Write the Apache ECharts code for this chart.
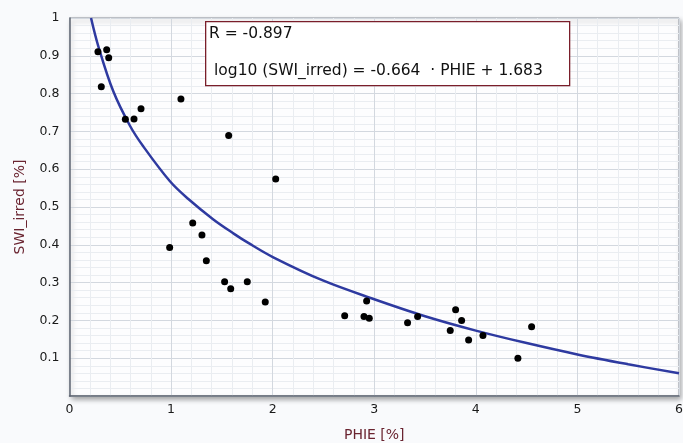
<!DOCTYPE html>
<html>
<head>
<meta charset="utf-8">
<script src="https://cdn.jsdelivr.net/npm/echarts@6/dist/echarts.min.js"></script>
<style>
html,body{margin:0;padding:0;background:#f9fafc;}
#c{width:683px;height:443px;}
</style>
</head>
<body>
<div id="c"></div>
<script>
// measured points
var phie = [0.28,0.366,0.386,0.313,0.55,0.635,0.704,1.097,1.567,2.03,0.986,1.213,1.304,1.347,1.527,1.587,1.75,1.927,2.709,2.925,2.899,2.951,3.328,3.427,3.801,3.86,3.748,3.929,4.07,4.414,4.549];
var swi  = [0.911,0.916,0.895,0.818,0.732,0.733,0.760,0.786,0.689,0.574,0.393,0.458,0.426,0.358,0.302,0.284,0.302,0.249,0.212,0.251,0.210,0.206,0.194,0.210,0.228,0.200,0.173,0.148,0.160,0.100,0.183];
// fitted curve
var fitX = [0.212,0.284,0.431,0.595,0.727,0.989,1.17,1.416,1.62,1.76,2.006,2.5,3.0,3.5,4.0,4.5,5.0,5.5,6.0];
var fitY = [1.0,0.925,0.806,0.715,0.66,0.568,0.521,0.467,0.429,0.405,0.367,0.305,0.256,0.211,0.173,0.14,0.11,0.084,0.06];
var xTicks = [0,1,2,3,4,5,6];
var yTicks = [0.1,0.2,0.3,0.4,0.5,0.6,0.7,0.8,0.9,1];
var annR = 'R = -0.897';
var annEq = 'log10 (SWI_irred) = -0.664  \u00b7 PHIE + 1.683';
var xTitle = 'PHIE [%]';
var yTitle = 'SWI_irred [%]';

var chart = echarts.init(document.getElementById('c'), null, {renderer:'canvas'});
var font = 'DejaVu Sans';
var titleColor = '#6a2430';
chart.setOption({
  backgroundColor: '#f9fafc',
  animation: false,
  grid: {
    left: 69.5, right: 4, top: 18, bottom: 47,
    containLabel: false, outerBoundsMode: 'none',
    show: true, backgroundColor: '#fdfdfe', borderColor: '#8a909a', borderWidth: 1,
    shadowColor: 'rgba(0,0,0,0.35)', shadowBlur: 5, shadowOffsetX: 2, shadowOffsetY: 3
  },
  xAxis: {
    type: 'value', min: 0, max: 6, interval: 1,
    name: xTitle, nameLocation: 'middle', nameGap: 32,
    nameTextStyle: {fontFamily: font, fontSize: 14, color: titleColor},
    axisLine: {show: true, lineStyle: {color: '#5e6470', width: 1.5}},
    axisTick: {show: false},
    axisLabel: {fontFamily: font, fontSize: 12.5, color: '#1a1a1a', margin: 7,
      formatter: function(v){ return xTicks.indexOf(v) >= 0 ? String(v) : ''; }},
    splitLine: {show: true, lineStyle: {color: '#d3d8df', width: 1}},
    minorTick: {show: false, splitNumber: 5},
    minorSplitLine: {show: true, lineStyle: {color: '#eaedf1', width: 1}}
  },
  yAxis: {
    type: 'value', min: 0, max: 1, interval: 0.1,
    name: yTitle, nameLocation: 'middle', nameGap: 42,
    nameTextStyle: {fontFamily: font, fontSize: 14, color: titleColor},
    axisLine: {show: true, lineStyle: {color: '#5e6470', width: 1.5}},
    axisTick: {show: false},
    axisLabel: {fontFamily: font, fontSize: 12.5, color: '#1a1a1a', margin: 10,
      formatter: function(v){
        var r = +v.toFixed(1);
        return yTicks.indexOf(r) >= 0 ? String(r) : '';
      }},
    splitLine: {show: true, lineStyle: {color: '#d3d8df', width: 1}},
    minorTick: {show: false, splitNumber: 5},
    minorSplitLine: {show: true, lineStyle: {color: '#eaedf1', width: 1}}
  },
  series: [
    {
      type: 'line', data: fitX.map(function(x,i){ return [x, fitY[i]]; }),
      smooth: 0.35, showSymbol: false, symbol: 'none', clip: true,
      lineStyle: {color: '#2e3aa0', width: 2.5}, z: 3
    },
    {
      type: 'scatter', data: phie.map(function(x,i){ return [x, swi[i]]; }),
      symbol: 'circle', symbolSize: 7, itemStyle: {color: '#000', opacity: 1}, z: 4
    }
  ],
  graphic: [
    {type: 'rect', left: 205, top: 21, z: 10,
     shape: {width: 364, height: 64},
     style: {fill: '#ffffff', stroke: '#7a1e2a', lineWidth: 1.3}},
    {type: 'text', left: 209, top: 26, z: 11,
     style: {text: annR, font: '15.5px "DejaVu Sans"', fill: '#111'}},
    {type: 'text', left: 214, top: 63, z: 11,
     style: {text: annEq, font: '15.5px "DejaVu Sans"', fill: '#111'}}
  ]
});
</script>
</body>
</html>
